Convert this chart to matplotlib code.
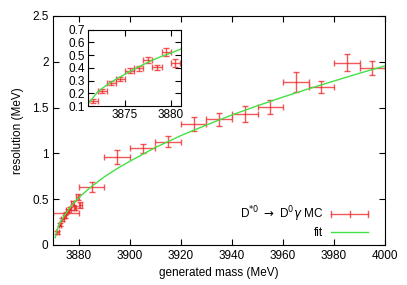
import matplotlib.pyplot as plt
from matplotlib.lines import Line2D
from matplotlib.legend_handler import HandlerBase

plt.rcParams['font.family'] = ['Liberation Sans', 'DejaVu Sans']
plt.rcParams['font.size'] = 8.5

# fine 1 MeV bins near threshold
fine_mass = [3871.5, 3872.5, 3873.5, 3874.5, 3875.5, 3876.5, 3877.5, 3878.5, 3879.5, 3880.5]
fine_res = [0.137, 0.220, 0.283, 0.314, 0.377, 0.396, 0.461, 0.403, 0.524, 0.435]
fine_yerr = [0.016, 0.016, 0.016, 0.016, 0.018, 0.018, 0.021, 0.02, 0.031, 0.031]
fine_xerr = 0.5

# coarse 10 MeV bins
coarse_mass = [3875, 3885, 3895, 3905, 3915, 3925, 3935, 3945, 3955, 3965, 3975, 3985, 3995]
coarse_res = [0.345, 0.635, 0.964, 1.055, 1.128, 1.321, 1.372, 1.430, 1.503, 1.779, 1.721, 1.990, 1.936]
coarse_yerr = [0.01, 0.058, 0.076, 0.05, 0.06, 0.075, 0.073, 0.085, 0.078, 0.105, 0.065, 0.096, 0.078]
coarse_xerr = 5

# fit curve
fit_mass = [3870.7, 3871, 3872, 3873, 3874, 3875, 3876, 3877, 3878, 3879, 3880, 3881.2,
            3885, 3890, 3895, 3900, 3910, 3920, 3930, 3940, 3950, 3960, 3970, 3980, 3990, 4000]
fit_res = [0.08, 0.12, 0.21, 0.265, 0.31, 0.35, 0.39, 0.425, 0.46, 0.49, 0.515, 0.55,
           0.64, 0.745, 0.835, 0.915, 1.065, 1.195, 1.31, 1.42, 1.52, 1.615, 1.705, 1.79, 1.875, 1.955]

red = '#ee2020'
green = '#44e044'
eb = dict(fmt='none', ecolor=red, elinewidth=1, capsize=2, capthick=1, alpha=0.75)


class XBarHandler(HandlerBase):
    # gnuplot-like key sample: horizontal bar, end caps, centre tick
    def create_artists(self, legend, orig_handle, xdescent, ydescent,
                       width, height, fontsize, trans):
        y = height / 2 - ydescent
        x0 = -xdescent
        x1 = x0 + width
        xm = (x0 + x1) / 2
        c = 2.0
        segs = [([x0, x1], [y, y]), ([x0, x0], [y - c, y + c]),
                ([x1, x1], [y - c, y + c]), ([xm, xm], [y - c, y + c])]
        arts = []
        for xs, ys in segs:
            ln = Line2D(xs, ys, color=red, alpha=0.75, lw=1)
            ln.set_transform(trans)
            arts.append(ln)
        return arts


fig = plt.figure(figsize=(4.07, 2.85), dpi=100)
ax = fig.add_axes([0.1314, 0.1404, 0.8146, 0.8035])

ax.errorbar(coarse_mass, coarse_res, xerr=coarse_xerr, yerr=coarse_yerr, **eb)
mc = ax.errorbar(fine_mass, fine_res, xerr=fine_xerr, yerr=fine_yerr, **eb)
fit_line, = ax.plot(fit_mass, fit_res, color=green, lw=1)

ax.set_xlim(3870, 4000)
ax.set_ylim(0, 2.5)
ax.set_xticks([3880, 3900, 3920, 3940, 3960, 3980, 4000])
ax.set_yticks([0, 0.5, 1, 1.5, 2, 2.5])
ax.set_yticklabels(['0', '0.5', '1', '1.5', '2', '2.5'])
ax.tick_params(direction='in', top=True, right=True, length=4, width=0.8)
ax.set_xlabel('generated mass (MeV)', labelpad=4)
ax.set_ylabel('resolution (MeV)', labelpad=6)

ax.legend([mc, fit_line],
          [r'D$^{*0}$ $\rightarrow$ D$^0\gamma$ MC', 'fit'],
          handler_map={type(mc): XBarHandler()},
          loc='lower right', frameon=False, markerfirst=False,
          bbox_to_anchor=(368 / 407, 0.16), bbox_transform=fig.transFigure,
          borderpad=0, borderaxespad=0, handlelength=3.1, handletextpad=0.7,
          labelspacing=0.3)

# inset zoom on threshold region
axi = fig.add_axes([0.215, 0.628, 0.229, 0.268])
axi.errorbar(fine_mass, fine_res, xerr=fine_xerr, yerr=fine_yerr, **eb)
axi.plot(fit_mass, fit_res, color=green, lw=1)
axi.set_xlim(3870.9, 3881.1)
axi.set_ylim(0.1, 0.7)
axi.set_xticks([3875, 3880])
axi.set_yticks([0.1, 0.2, 0.3, 0.4, 0.5, 0.6, 0.7])
axi.tick_params(direction='in', top=True, right=True, length=4, width=0.8, pad=2)

plt.savefig('out.png', dpi=100)
